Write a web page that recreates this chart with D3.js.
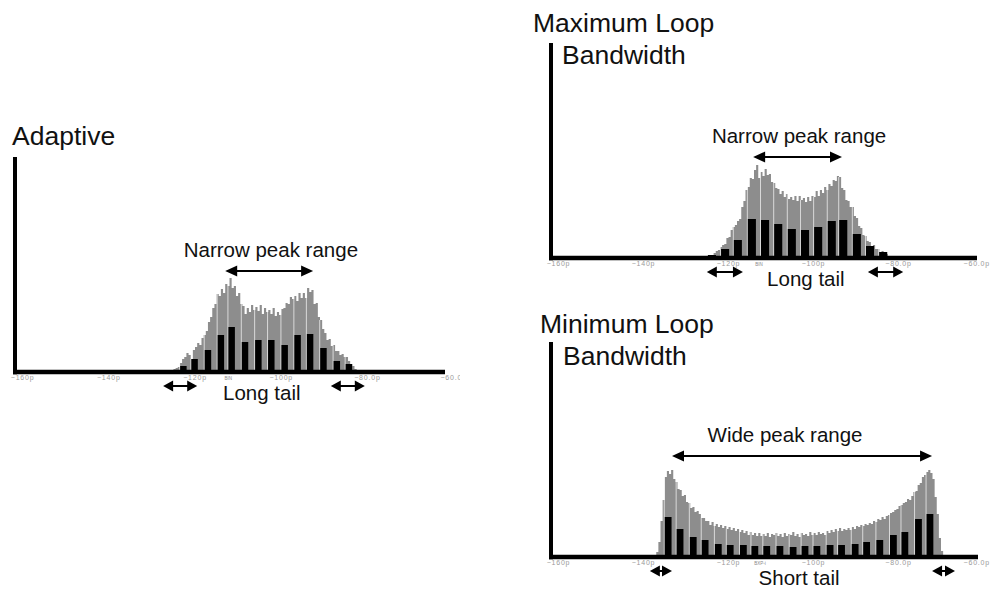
<!DOCTYPE html>
<html><head><meta charset="utf-8">
<script src="https://cdn.jsdelivr.net/npm/d3@7"></script>
<style>
html,body{margin:0;padding:0;background:#fff;}
svg{display:block;font-family:"Liberation Sans", Arial, sans-serif;}
</style></head><body>
<svg id="chart" width="992" height="590"></svg>
<script>
// Jitter histograms (time error in ps) for three CDR loop-bandwidth settings.
// Gray = all transitions, black = periodic peak bins.

const tickValues = [-160, -140, -120, -100, -80, -60];
const tickLabels = ["\u2212160p", "\u2212140p", "\u2212120p", "\u2212100p", "\u221280.0p", "\u221260.0p"];
const binWidth = 0.5; // ps per gray bin

// Adaptive
const adaptiveStart = -125.5;
const adaptiveTotal = [2,3,4,5,9,13,15,19,17,13,22,25,29,27,34,37,41,50,55,64,68,78,76,83,79,88,86,94,84,86,
  76,79,68,66,58,64,60,67,62,65,61,67,58,64,60,62,58,64,56,60,57,63,64,69,68,75,73,76,71,79,
  74,79,74,84,80,82,68,69,55,52,43,39,32,33,26,27,21,21,17,18,15,15,11,8,6,3,1];
const adaptivePeakPos = [-122.7,-120.1,-117.0,-114.0,-111.5,-108.4,-105.3,-102.3,-99.2,-96.2,-93.3,-90.2,-87.1,-84.3];
const adaptivePeakCounts = [6,13,22,37,45,30,32,32,27,37,38,24,11,8];

// Maximum loop bandwidth
const maxLoopStart = -125.5;
const maxLoopTotal = [1,2,3,3,5,7,8,11,13,14,20,21,28,31,33,37,39,51,57,68,71,80,79,88,93,80,86,82,89,83,
  84,76,75,70,69,64,67,61,64,59,61,58,62,57,62,58,60,56,61,57,62,61,67,62,68,65,71,68,74,72,
  78,77,82,81,70,68,58,57,51,51,42,40,32,30,23,22,17,16,12,13,9,9,6,7,4,4,2,1];
const maxLoopPeakPos = [-123.9,-120.8,-117.8,-114.5,-111.4,-108.3,-105.1,-102.0,-98.9,-95.7,-93.0,-89.8,-86.7,-83.6];
const maxLoopPeakCounts = [3,9,18,39,38,34,29,28,31,37,38,24,12,6];

// Minimum loop bandwidth
const minLoopStart = -137;
const minLoopTotal = [5,15,36,57,80,86,83,87,78,75,68,67,61,62,55,54,49,50,45,46,
  43,39,39,36,36,32,35,31,33,30,32,29,31,28,30,27,29,26,28,25,
  27,24,26,22,25,22,24,21,24,21,23,21,24,20,23,22,24,21,23,20,
  24,21,23,22,25,21,23,20,24,22,23,21,25,22,24,22,25,23,24,22,
  26,24,27,25,28,26,29,26,28,27,29,27,30,28,31,30,32,31,33,32,
  34,33,36,35,38,37,40,38,41,42,44,45,47,48,51,52,54,55,58,57,
  61,65,66,72,74,80,82,85,87,84,78,60,43,19,6];
const minLoopPeakPos = [-134.2,-131.4,-128.3,-125.5,-122.4,-119.6,-116.5,-113.8,-111.0,-107.9,-104.8,-102.0,-99.2,-96.1,-93.4,-90.2,-87.5,-84.4,-81.2,-78.5,-75.3,-72.6];
const minLoopPeakCounts = [40,28,20,17,13,12,12,11,11,11,10,11,11,12,12,13,15,17,22,25,38,43];

const panels = [
  { title: ["Adaptive"], titleX: [12], titleY: [145],
    range: [14, 445], axisEnd: 445, axisX: 15, base: 372, clipRight: 460,
    start: adaptiveStart, total: adaptiveTotal, peakPos: adaptivePeakPos, peakCounts: adaptivePeakCounts, peakW: 1.5,
    rangeText: "Narrow peak range", rangeTextAt: -102.4, span: [-113.0, -92.6],
    tailText: "Long tail", tailTextAt: -104.5, tails: [[-127.4, -119.5], [-88.5, -80.6]],
    binText: "BIN", binAt: -112.3 },
  { title: ["Maximum Loop", "Bandwidth"], titleX: [533, 562], titleY: [32, 64],
    range: [550, 975], axisEnd: 977, axisX: 551, base: 258, clipRight: 992,
    start: maxLoopStart, total: maxLoopTotal, peakPos: maxLoopPeakPos, peakCounts: maxLoopPeakCounts, peakW: 1.9,
    rangeText: "Narrow peak range", rangeTextAt: -103.4, span: [-114.2, -93.3],
    tailText: "Long tail", tailTextAt: -101.8, tails: [[-125.1, -116.6], [-87.2, -78.9]],
    binText: "BIN", binAt: -112.8 },
  { title: ["Minimum Loop", "Bandwidth"], titleX: [540, 563], titleY: [333, 365],
    range: [550, 975], axisEnd: 978, axisX: 551, base: 557, clipRight: 992,
    start: minLoopStart, total: minLoopTotal, peakPos: minLoopPeakPos, peakCounts: minLoopPeakCounts, peakW: 1.6,
    rangeText: "Wide peak range", rangeTextAt: -106.7, span: [-133.3, -72.1],
    tailText: "Short tail", tailTextAt: -103.4, tails: [[-138.5, -133.3], [-72.1, -66.7]],
    binText: "BXP-i", binAt: -112.6 }
];

const svg = d3.select("#chart");
const defs = svg.append("defs");
const GRAY = "#8d8d8d";
const PAGE_W = 992;

function dblArrow(g, xa, xb, y, L, W, sw) {
  const l = Math.min(L, (xb - xa) / 2);
  g.append("line").attr("x1", xa + l * 0.7).attr("x2", xb - l * 0.7)
    .attr("y1", y).attr("y2", y).attr("stroke", "#000").attr("stroke-width", sw);
  g.append("path").attr("d", `M${xa},${y}L${xa + l},${y - W}L${xa + l},${y + W}Z`).attr("fill", "#000");
  g.append("path").attr("d", `M${xb},${y}L${xb - l},${y - W}L${xb - l},${y + W}Z`).attr("fill", "#000");
}

// step outline of a histogram, one flat top per bin
function stepPath(x, y, start, counts) {
  const path = d3.path();
  path.moveTo(x(start), y(0));
  counts.forEach((c, i) => {
    path.lineTo(x(start + i * binWidth), y(c));
    path.lineTo(x(start + (i + 1) * binWidth), y(c));
  });
  path.lineTo(x(start + counts.length * binWidth), y(0));
  path.closePath();
  return path.toString();
}

panels.forEach((p, pi) => {
  const x = d3.scaleLinear().domain([-162, -62]).range(p.range);
  const y = d3.scaleLinear().domain([0, 215]).range([p.base, p.base - 215]);
  const g = svg.append("g");

  // titles
  p.title.forEach((t, i) => {
    g.append("text").attr("x", p.titleX[i]).attr("y", p.titleY[i])
      .attr("font-size", 26.5).attr("fill", "#111").text(t);
  });

  // gray histogram
  g.append("path").attr("d", stepPath(x, y, p.start, p.total)).attr("fill", GRAY);

  // hairline gaps in the gray beside each peak bin
  const grayAt = v => {
    const k = Math.floor((v - p.start) / binWidth);
    return k >= 0 && k < p.total.length ? p.total[k] : 0;
  };
  g.append("g").selectAll("line").data(p.peakPos).join("line")
    .attr("x1", v => x(v - p.peakW / 2) - 0.5).attr("x2", v => x(v - p.peakW / 2) - 0.5)
    .attr("y1", y(0)).attr("y2", v => y(grayAt(v - p.peakW / 2)))
    .attr("stroke", "#fff").attr("stroke-width", 0.9).attr("opacity", 0.75);

  // black peak bins
  g.append("g").selectAll("rect").data(p.peakPos).join("rect")
    .attr("x", v => x(v - p.peakW / 2))
    .attr("width", v => x(v + p.peakW / 2) - x(v - p.peakW / 2))
    .attr("y", (v, i) => y(p.peakCounts[i]))
    .attr("height", (v, i) => y(0) - y(p.peakCounts[i]))
    .attr("fill", "#000");

  // axes
  g.append("line").attr("x1", p.axisX).attr("x2", p.axisX)
    .attr("y1", y(215)).attr("y2", p.base + 2.3)
    .attr("stroke", "#000").attr("stroke-width", 4);
  g.append("line").attr("x1", p.axisX - 2).attr("x2", p.axisEnd)
    .attr("y1", p.base).attr("y2", p.base)
    .attr("stroke", "#000").attr("stroke-width", 4.6);

  // tick labels; the left panel is trimmed at its right edge, labels at the page edge are pulled inside
  const clipId = "clip" + pi;
  defs.append("clipPath").attr("id", clipId).append("rect")
    .attr("x", 0).attr("y", 0).attr("width", p.clipRight).attr("height", 590);
  const tg = g.append("g").attr("clip-path", `url(#${clipId})`);
  tg.selectAll("text").data(tickValues).join("text")
    .attr("x", d => x(d)).attr("y", p.base + 7.5)
    .attr("text-anchor", "middle").attr("font-size", 7)
    .attr("letter-spacing", 0.8).attr("fill", "#9a9a9a")
    .text((d, i) => tickLabels[i])
    .each(function () {
      const b = this.getBBox();
      if (b.x + b.width > PAGE_W - 1) {
        d3.select(this).attr("text-anchor", "end").attr("x", PAGE_W - 2);
      }
    });

  // axis caption
  g.append("text").attr("x", x(p.binAt)).attr("y", p.base + 8)
    .attr("text-anchor", "middle").attr("font-size", 4.5).attr("fill", "#888")
    .text(p.binText);

  // annotations
  g.append("text").attr("x", x(p.rangeTextAt)).attr("y", p.base - 115)
    .attr("text-anchor", "middle").attr("font-size", 20.5).attr("fill", "#111")
    .text(p.rangeText);
  dblArrow(g, x(p.span[0]), x(p.span[1]), p.base - 101, 12, 5.5, 2);
  p.tails.forEach(t => dblArrow(g, x(t[0]), x(t[1]), p.base + 14, 10, 5.5, 2));
  g.append("text").attr("x", x(p.tailTextAt)).attr("y", p.base + 28)
    .attr("text-anchor", "middle").attr("font-size", 20.5).attr("fill", "#111")
    .text(p.tailText);
});
</script>
</body></html>
